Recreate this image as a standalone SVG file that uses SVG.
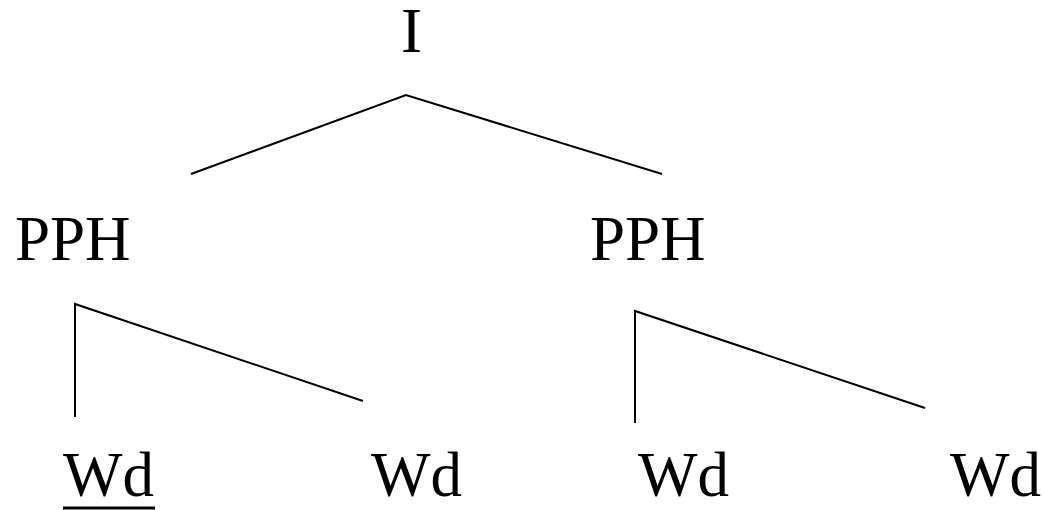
<svg xmlns="http://www.w3.org/2000/svg" width="1044" height="510" viewBox="0 0 1044 510">
  <style>
    .lbl { font-family: "Liberation Serif", "Times New Roman", serif; font-size: 63px; fill: #000; }
    .edge { stroke: #000; stroke-width: 2; fill: none; }
  </style>
  <rect width="1044" height="510" fill="#fff"/>

  <!-- connectors -->
  <g id="connectors">
    <polyline class="edge" points="191,174 406,95 662,174"/>
    <polyline class="edge" points="75,417 75,304 363,401"/>
    <polyline class="edge" points="635,423 635,311 925,408"/>
  </g>

  <!-- nodes -->
  <g id="node-I"><text class="lbl" x="401" y="52">I</text></g>
  <g id="node-PPH-1"><text class="lbl" x="15" y="260">PPH</text></g>
  <g id="node-PPH-2"><text class="lbl" x="590" y="260">PPH</text></g>
  <g id="node-Wd-1">
    <text class="lbl" x="63" y="496">Wd</text>
    <line x1="63" y1="508" x2="155" y2="508" stroke="#000" stroke-width="3"/>
  </g>
  <g id="node-Wd-2"><text class="lbl" x="371" y="496">Wd</text></g>
  <g id="node-Wd-3"><text class="lbl" x="638" y="496">Wd</text></g>
  <g id="node-Wd-4"><text class="lbl" x="950" y="496">Wd</text></g>
</svg>
